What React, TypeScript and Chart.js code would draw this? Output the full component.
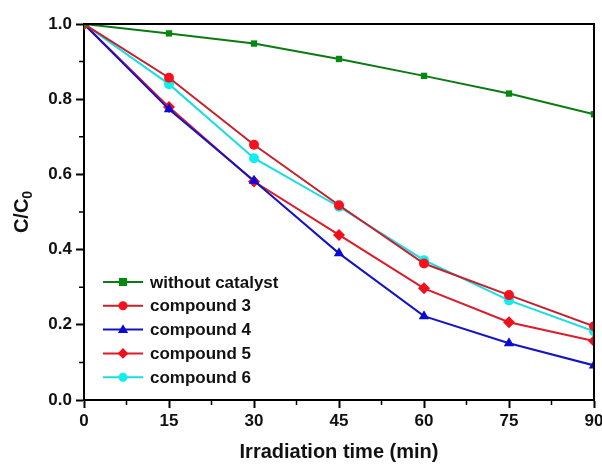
import React, { useEffect, useRef } from "react";
import { Chart, registerables } from "chart.js";

Chart.register(...registerables);

const times = [0, 15, 30, 45, 60, 75, 90];
const withoutCatalyst = [1.0, 0.975, 0.948, 0.907, 0.862, 0.815, 0.76];
const compound3 = [1.0, 0.857, 0.679, 0.518, 0.363, 0.279, 0.196];
const compound4 = [1.0, 0.773, 0.583, 0.39, 0.223, 0.151, 0.092];
const compound5 = [1.0, 0.779, 0.581, 0.439, 0.297, 0.207, 0.157];
const compound6 = [1.0, 0.84, 0.643, 0.514, 0.372, 0.265, 0.183];
const seriesNames = ["without catalyst", "compound 3", "compound 4", "compound 5", "compound 6"];
const xTitle = "Irradiation time (min)";

const FONT = "'Liberation Sans', Arial, sans-serif";

const styles = [
  { line: "#0b7a12", fill: "#008a10", shape: "rect", r: 4.5 },
  { line: "#c8202a", fill: "#f5121e", shape: "circle", r: 5 },
  { line: "#1414c4", fill: "#0a0ad8", shape: "triangle", r: 6 },
  { line: "#dc1c28", fill: "#f0101c", shape: "rectRot", r: 6 },
  { line: "#18dce6", fill: "#10eef0", shape: "circle", r: 5 },
];

function drawMarker(ctx: CanvasRenderingContext2D, shape: string, x: number, y: number, r: number, color: string) {
  ctx.save();
  ctx.fillStyle = color;
  ctx.beginPath();
  if (shape === "rect") {
    ctx.rect(x - r, y - r, 2 * r, 2 * r);
  } else if (shape === "circle") {
    ctx.arc(x, y, r, 0, Math.PI * 2);
  } else if (shape === "triangle") {
    ctx.moveTo(x, y - r);
    ctx.lineTo(x + r * 0.95, y + r * 0.65);
    ctx.lineTo(x - r * 0.95, y + r * 0.65);
    ctx.closePath();
  } else {
    ctx.moveTo(x, y - r);
    ctx.lineTo(x + r, y);
    ctx.lineTo(x, y + r);
    ctx.lineTo(x - r, y);
    ctx.closePath();
  }
  ctx.fill();
  ctx.restore();
}

const decorPlugin = {
  id: "decor",
  afterDraw(chart: any) {
    const { ctx, chartArea } = chart;
    const { left, right, top, bottom } = chartArea;
    const xs = chart.scales.x;
    const ys = chart.scales.y;
    ctx.save();
    // frame
    ctx.strokeStyle = "#000";
    ctx.lineWidth = 2;
    ctx.beginPath();
    ctx.moveTo(left, top);
    ctx.lineTo(right, top);
    ctx.lineTo(right, bottom);
    ctx.stroke();
    // minor ticks
    ctx.lineWidth = 1.5;
    ctx.beginPath();
    for (let v = 7.5; v < 90; v += 15) {
      const px = xs.getPixelForValue(v);
      ctx.moveTo(px, bottom);
      ctx.lineTo(px, bottom + 5);
    }
    for (let v = 0.1; v < 1; v += 0.2) {
      const py = ys.getPixelForValue(v);
      ctx.moveTo(left, py);
      ctx.lineTo(left - 5, py);
    }
    ctx.stroke();

    // x title
    ctx.fillStyle = "#111";
    ctx.font = `bold 20px ${FONT}`;
    ctx.textAlign = "center";
    ctx.textBaseline = "middle";
    ctx.fillText(xTitle, (left + right) / 2, 452);

    // y title C/C0
    ctx.save();
    ctx.translate(22, (top + bottom) / 2);
    ctx.rotate(-Math.PI / 2);
    ctx.font = `bold 20px ${FONT}`;
    const main = "C/C";
    const mw = ctx.measureText(main).width;
    ctx.font = `bold 14px ${FONT}`;
    const sw = ctx.measureText("0").width;
    const total = mw + sw;
    ctx.textAlign = "left";
    ctx.font = `bold 20px ${FONT}`;
    ctx.fillText(main, -total / 2, 0);
    ctx.font = `bold 14px ${FONT}`;
    ctx.fillText("0", -total / 2 + mw, 6);
    ctx.restore();

    // legend
    const lx0 = left + 19;
    const lx1 = left + 59;
    const lmx = (lx0 + lx1) / 2;
    const rowStart = top + 258;
    const rowGap = 23.8;
    ctx.font = `bold 17px ${FONT}`;
    ctx.textAlign = "left";
    ctx.textBaseline = "middle";
    seriesNames.forEach((name, i) => {
      const y = rowStart + i * rowGap;
      const s = styles[i];
      ctx.strokeStyle = s.line;
      ctx.lineWidth = 2;
      ctx.beginPath();
      ctx.moveTo(lx0, y);
      ctx.lineTo(lx1, y);
      ctx.stroke();
      drawMarker(ctx, s.shape, lmx, y, s.r * 0.9, s.fill);
      ctx.fillStyle = "#111";
      ctx.fillText(name, left + 66, y + 1);
    });
    ctx.restore();
  },
};

export default function App() {
  const ref = useRef<HTMLCanvasElement | null>(null);
  useEffect(() => {
    if (!ref.current) return;
    const allSeries = [withoutCatalyst, compound3, compound4, compound5, compound6];
    const datasets = allSeries.map((vals, i) => ({
      label: seriesNames[i],
      data: times.map((t, j) => ({ x: t, y: vals[j] })),
      borderColor: styles[i].line,
      backgroundColor: styles[i].fill,
      pointBackgroundColor: styles[i].fill,
      pointBorderColor: styles[i].fill,
      pointBorderWidth: 0,
      pointStyle: styles[i].shape as any,
      pointRadius: styles[i].r,
      borderWidth: 2,
      tension: 0,
      fill: false,
      clip: 0,
    }));
    const chart = new Chart(ref.current, {
      type: "line",
      data: { datasets },
      plugins: [decorPlugin],
      options: {
        animation: false,
        responsive: false,
        devicePixelRatio: 1,
        layout: { padding: { top: 24, right: 8, left: 0, bottom: 0 } },
        plugins: { legend: { display: false }, tooltip: { enabled: false } },
        scales: {
          x: {
            type: "linear",
            min: 0,
            max: 90,
            afterFit: (s: any) => {
              s.height = 67;
              s.paddingRight = 0;
              s.paddingLeft = 0;
            },
            ticks: {
              stepSize: 15,
              color: "#111",
              padding: 3,
              font: { family: FONT, size: 17, weight: "bold" },
              maxRotation: 0,
            },
            grid: {
              drawOnChartArea: false,
              drawTicks: true,
              tickLength: 8,
              tickWidth: 2,
              tickColor: "#000",
            },
            border: { display: true, color: "#000", width: 2 },
          },
          y: {
            min: 0,
            max: 1,
            afterFit: (s: any) => {
              s.width = 84;
              s.paddingTop = 0;
              s.paddingBottom = 0;
            },
            ticks: {
              stepSize: 0.2,
              color: "#111",
              padding: 4,
              font: { family: FONT, size: 17, weight: "bold" },
              callback: (v: any) => Number(v).toFixed(1),
            },
            grid: {
              drawOnChartArea: false,
              drawTicks: true,
              tickLength: 8,
              tickWidth: 2,
              tickColor: "#000",
            },
            border: { display: true, color: "#000", width: 2 },
          },
        },
      },
    });
    return () => chart.destroy();
  }, []);
  return (
    <div style={{ position: "fixed", left: 0, top: 0, width: 602, height: 467, background: "#fff" }}>
      <canvas ref={ref} width={602} height={467} style={{ width: 602, height: 467 }} />
    </div>
  );
}
